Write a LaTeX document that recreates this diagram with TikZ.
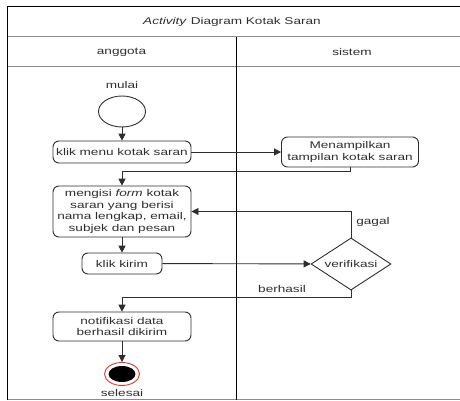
\documentclass[tikz,border=0pt]{standalone}
\usepackage{fontspec}
\setmainfont{Liberation Sans}
\usetikzlibrary{shapes.geometric,arrows.meta}
\definecolor{ink}{HTML}{2E2E2E}
\definecolor{frameline}{HTML}{8C8C8C}
\definecolor{endred}{HTML}{E8352E}
\begin{document}
\begin{tikzpicture}[x=1pt,y=-1pt,
  txt/.style={yscale=0.72,text=ink,font=\fontsize{13.6}{16.2}\selectfont,align=center,inner sep=0pt},
  actbox/.style={txt,draw=ink,line width=0.9pt,rounded corners=6pt},
  flow/.style={draw=ink,line width=0.9pt,-{Triangle[length=7pt,width=7pt]}},
  link/.style={draw=ink,line width=0.9pt}]
\useasboundingbox (0,0) rectangle (460,401);
% swimlane frame
\draw[frameline,line width=1pt] (7,37) -- (460,37) (7,67) -- (460,67) (7,399.5) -- (460,399.5);
\draw[black,line width=1pt] (460,7) -- (7,7) -- (7,400);
\draw[black,line width=1pt] (236,37) -- (236,400);
% headers
\node[txt] (title) at (232,22) {\textit{Activity} Diagram Kotak Saran};
\node[txt] (laneA) at (121.5,52) {anggota};
\node[txt] (laneB) at (352,52) {sistem};
% start
\node[txt] (mulai) at (122,85) {mulai};
\node[draw=ink,line width=0.9pt,ellipse,minimum width=47pt,minimum height=31pt,inner sep=0pt] (start) at (122,111.5) {};
% activities
\node[actbox,minimum width=138pt,minimum height=22pt/0.72] (klikmenu) at (122,152) {klik menu kotak saran};
\node[actbox,minimum width=137pt,minimum height=30pt/0.72] (tampil) at (350,152) {Menampilkan\\tampilan kotak saran};
\node[actbox,minimum width=138pt,minimum height=51pt/0.72] (isi) at (122,211.5) {mengisi \textit{form} kotak\\saran yang berisi\\nama lengkap, email,\\subjek dan pesan};
\node[actbox,minimum width=80pt,minimum height=21pt/0.72] (kirim) at (122,263.5) {klik kirim};
\node[txt,draw=ink,line width=0.9pt,diamond,minimum width=80pt,minimum height=52pt/0.72] (verif) at (351,264) {verifikasi};
\node[actbox,minimum width=138pt,minimum height=29pt/0.72] (notif) at (122,326.5) {notifikasi data\\berhasil dikirim};
% end
\node[draw=endred,line width=0.9pt,fill=white,ellipse,minimum width=35pt,minimum height=23pt,inner sep=0pt] (endring) at (122,374) {};
\node[fill=black,ellipse,minimum width=27pt,minimum height=16pt,inner sep=0pt] (enddot) at (122,374) {};
\node[txt] (selesai) at (122,393) {selesai};
% connector corners
\coordinate (back) at (350,171);
\coordinate (ok) at (351,297);
% flows
\draw[flow] (start) -- (klikmenu);
\draw[flow] (klikmenu) -- (tampil);
\draw[flow] (tampil.south) -- (back) -| (isi.north);
\draw[flow] (isi) -- (kirim);
\draw[flow] (kirim) -- (verif);
\draw[flow] (verif.north) |- (isi.east);
\draw[flow] (verif.south) -- (ok) -| (notif.north);
\draw[flow] (notif) -- (endring);
% guard labels
\node[txt] (gagal) at (373,222) {gagal};
\node[txt] (berhasil) at (282,289) {berhasil};
\end{tikzpicture}
\end{document}
